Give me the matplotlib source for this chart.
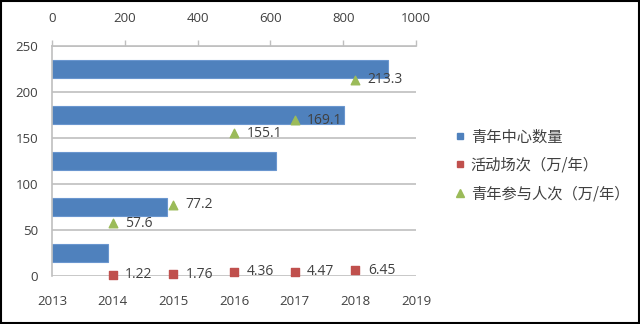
import matplotlib.pyplot as plt
from matplotlib.patches import Rectangle

plt.rcParams['font.family'] = ['Open Sans', 'Noto Sans CJK SC', 'DejaVu Sans']

# 数据
years = [2014, 2015, 2016, 2017, 2018]
centers = [155, 315, 615, 802, 922]          # 青年中心数量（上方横轴）
activities = [1.22, 1.76, 4.36, 4.47, 6.45]  # 活动场次（万/年）
participants = [57.6, 77.2, 155.1, 169.1, 213.3]  # 青年参与人次（万/年）

c_blue = '#4F81BD'
c_red = '#C0504D'
c_green = '#9BBB59'
c_grid = '#BFBFBF'
c_text = '#404040'

fig = plt.figure(figsize=(6.4, 3.24), dpi=100)
rect = [52 / 640, 48 / 324, 364 / 640, 230 / 324]

# 条形图：青年中心数量，使用顶部坐标轴
axb = fig.add_axes(rect, zorder=1)
axb.barh(range(len(years)), centers, height=0.4, color=c_blue,
         edgecolor='#6A96CF', linewidth=0.8)
axb.set_xlim(0, 1000)
axb.set_ylim(-0.5, len(years) - 0.5)
axb.xaxis.tick_top()
axb.set_xticks([0, 200, 400, 600, 800, 1000])
axb.tick_params(axis='x', colors=c_grid, labelcolor=c_text, labelsize=9.5,
                length=4, width=1, pad=11)
axb.set_yticks([])
for s in ['left', 'right', 'bottom']:
    axb.spines[s].set_visible(False)
axb.spines['top'].set_color(c_grid)
axb.spines['top'].set_linewidth(1.2)

# 散点：活动场次、参与人次
ax = fig.add_axes(rect, zorder=2)
ax.patch.set_alpha(0)
ax.set_xlim(2013, 2019)
ax.set_ylim(0, 250)
ax.set_yticks(range(0, 251, 50))
ax.set_xticks(range(2013, 2020))
ax.grid(axis='y', color=c_grid, linewidth=1.2)
ax.set_axisbelow(True)
ax.tick_params(axis='both', length=0, labelcolor=c_text, labelsize=9.5)
ax.tick_params(axis='x', pad=14)
ax.tick_params(axis='y', pad=10)
for s in ['top', 'right', 'bottom']:
    ax.spines[s].set_visible(False)
ax.spines['left'].set_color(c_grid)
ax.spines['left'].set_linewidth(1.2)

ax.scatter(years, activities, marker='s', s=36, color=c_red, zorder=3, clip_on=False)
ax.scatter(years, participants, marker='^', s=38, color=c_green, zorder=3, clip_on=False)
for x, v in zip(years, activities):
    ax.annotate(f'{v:g}', (x, v), xytext=(9, 0), textcoords='offset points',
                va='center', ha='left', fontsize=10, color=c_text)
for x, v in zip(years, participants):
    ax.annotate(f'{v:g}', (x, v), xytext=(9, 0), textcoords='offset points',
                va='center', ha='left', fontsize=10, color=c_text)

# 图例
h_blue = plt.Line2D([], [], marker='s', linestyle='', color=c_blue, markersize=5)
h_red = plt.Line2D([], [], marker='s', linestyle='', color=c_red, markersize=5)
h_green = plt.Line2D([], [], marker='^', linestyle='', color=c_green, markersize=5.5)
leg = fig.legend([h_blue, h_red, h_green],
                 ['青年中心数量', '活动场次（万/年）', '青年参与人次（万/年）'],
                 loc='center left', bbox_to_anchor=(0.69, 0.49), frameon=False,
                 handlelength=0.6, handletextpad=0.4, labelspacing=0.75,
                 prop={'family': ['Noto Sans CJK SC', 'DejaVu Sans'], 'size': 11})
for t in leg.get_texts():
    t.set_color(c_text)

# 外框
fig.patches.append(Rectangle((0.001, 0.002), 0.997, 0.995, transform=fig.transFigure,
                             fill=False, edgecolor='black', linewidth=1.5))

fig.savefig('out.png', dpi=100)
